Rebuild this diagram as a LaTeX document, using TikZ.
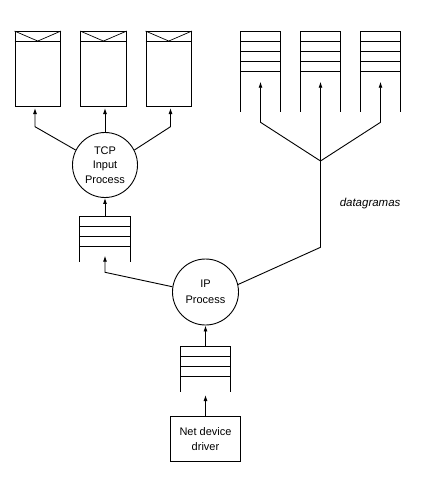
\documentclass[tikz,border=0pt]{standalone}
\usepackage{fontspec}
\setmainfont{Liberation Sans}
\usetikzlibrary{arrows.meta,calc}
\begin{document}
\begin{tikzpicture}[x=1pt,y=-1pt,line width=0.9pt,
  arr/.style={-{Latex[length=6pt,width=4pt]}},
  boxnode/.style={draw, minimum width=45.5pt, minimum height=75.2pt, inner sep=0pt},
  qnode/.style={minimum width=#1, inner sep=0pt, outer sep=0pt},
  proc/.style={circle, draw, inner sep=0pt, align=center},
  lbl/.style={font=\fontsize{11}{14}\selectfont}
]
\useasboundingbox (0,0) rectangle (431,477);

% top-left boxes
\node[boxnode] (b1) at (37.75,69.1) {};
\node[boxnode] (b2) at (103.45,69.1) {};
\node[boxnode] (b3) at (168.75,69.1) {};
\foreach \b in {b1,b2,b3} {
  \draw ($(\b.north west)+(0,10)$) -- ($(\b.north east)+(0,10)$);
  \draw[line width=0.7pt] (\b.north west) -- ($(\b.north)+(0,10)$) -- (\b.north east);
}

% top-right queues
\node[qnode=40pt, minimum height=80.7pt] (q1) at (260.5,71.35) {};
\node[qnode=40pt, minimum height=80.7pt] (q2) at (320.5,71.35) {};
\node[qnode=40pt, minimum height=80.7pt] (q3) at (380.5,71.35) {};
% left queue and IP queue
\node[qnode=50.7pt, minimum height=45.7pt] (tcpq) at (105,238.85) {};
\node[qnode=50.7pt, minimum height=45.7pt] (ipq) at (205.5,368.85) {};

\foreach \q in {q1,q2,q3} {
  \draw (\q.south west) -- (\q.north west) -- (\q.north east) -- (\q.south east);
  \foreach \k in {1,2,3,4}
    \draw ($(\q.north west)+(0,10*\k)$) -- ($(\q.north east)+(0,10*\k)$);
}
\foreach \q in {tcpq,ipq} {
  \draw (\q.south west) -- (\q.north west) -- (\q.north east) -- (\q.south east);
  \foreach \k in {1,2,3}
    \draw ($(\q.north west)+(0,10*\k)$) -- ($(\q.north east)+(0,10*\k)$);
}

% processes
\node[proc, minimum size=65pt, font=\fontsize{11}{14.3}\selectfont] (tcp) at (105,165) {TCP\\Input\\Process};
\node[proc, minimum size=66pt, font=\fontsize{11}{16}\selectfont] (ip) at (205.5,292) {IP\\Process};
\node[draw, minimum width=70pt, minimum height=45.7pt, inner sep=0pt, align=center,
      font=\fontsize{11}{15}\selectfont] (driver) at (205.5,438.85) {Net device\\driver};
\node[anchor=base west, inner sep=0pt, font=\fontsize{11.5}{14}\selectfont\itshape] (dg) at (339.3,206.7) {datagramas};

% coordinates
\coordinate (t1) at (35,108);
\coordinate (t2) at (105,108);
\coordinate (t3) at (170.5,108);
\coordinate (k1) at (35,126.7);
\coordinate (k3) at (170.5,126.7);
\coordinate (k4) at (105,272.3);
\coordinate (t4) at (105,255.7);
\coordinate (k5) at (320.5,247.3);
\coordinate (fork) at (320.5,161);
\coordinate (k6) at (260.5,122.3);
\coordinate (k7) at (380.5,122.3);
\coordinate (t5) at (260.5,81.7);
\coordinate (t6) at (320.5,81.7);
\coordinate (t7) at (380.5,81.7);
\coordinate (t8) at (205.5,395);

% connectors
\draw[arr] (tcp) -- (t2);
\draw[arr] (tcp.153) -- (k1) -- (t1);
\draw[arr] (tcp.27) -- (k3) -- (t3);
\draw[arr] (tcpq) -- (tcp);
\draw[arr] (ip.171) -- (k4) -- (t4);
\draw[arr] (ip.13) -- (k5) -- (t6);
\draw[arr] (fork) -- (k6) -- (t5);
\draw[arr] (fork) -- (k7) -- (t7);
\draw[arr] (ipq) -- (ip);
\draw[arr] (driver) -- (t8);
\end{tikzpicture}
\end{document}
